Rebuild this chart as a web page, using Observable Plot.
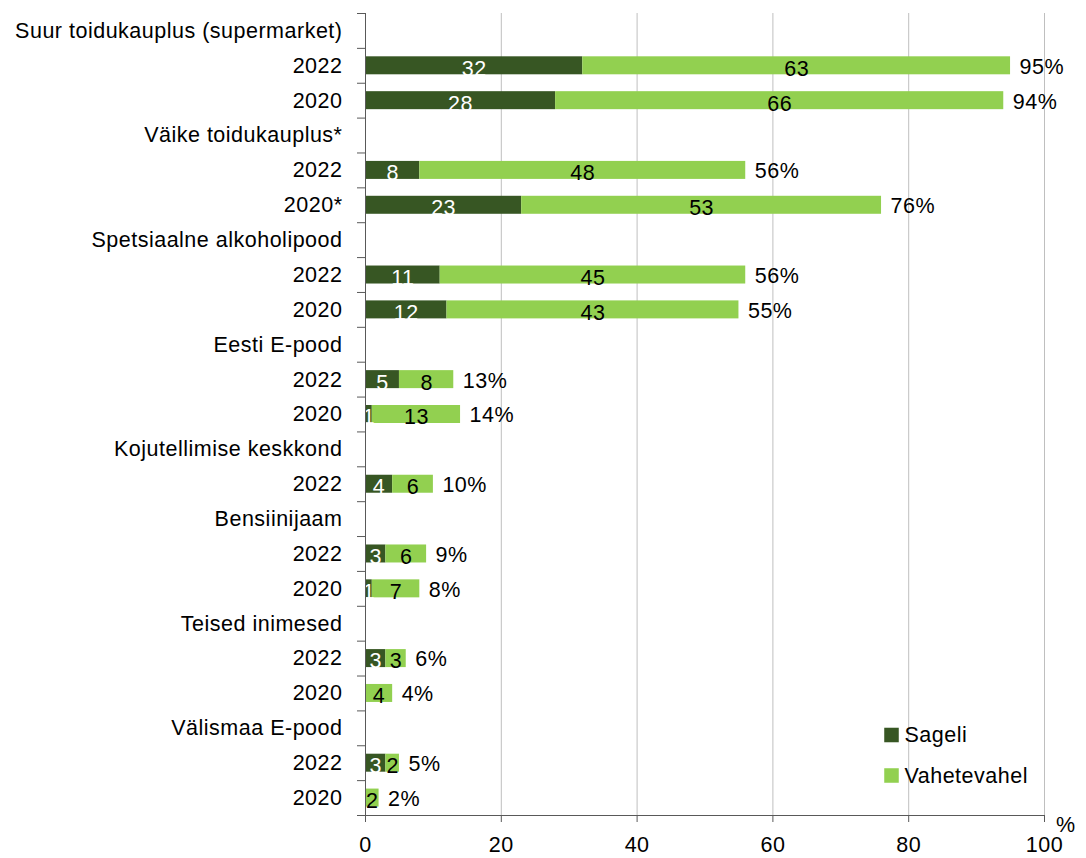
<!DOCTYPE html>
<html>
<head>
<meta charset="utf-8">
<script src="https://cdn.jsdelivr.net/npm/d3@7"></script>
<script src="https://cdn.jsdelivr.net/npm/@observablehq/plot@0.6"></script>
<style>
  html, body { margin: 0; padding: 0; background: white; }
  #chart svg { display: block; }
</style>
</head>
<body>
<div id="chart"></div>
<script>
// ---- Data ----
const groups = [
  "Suur toidukauplus (supermarket)",
  "Väike toidukauplus*",
  "Spetsiaalne alkoholipood",
  "Eesti E-pood",
  "Kojutellimise keskkond",
  "Bensiinijaam",
  "Teised inimesed",
  "Välismaa E-pood"
];
const years = [
  ["2022", "2020"],
  ["2022", "2020*"],
  ["2022", "2020"],
  ["2022", "2020"],
  ["2022"],
  ["2022", "2020"],
  ["2022", "2020"],
  ["2022", "2020"]
];
const sageli = [
  [32, 28],
  [8, 23],
  [11, 12],
  [5, 1],
  [4],
  [3, 1],
  [3, 0],
  [3, 0]
];
const vahetevahel = [
  [63, 66],
  [48, 53],
  [45, 43],
  [8, 13],
  [6],
  [6, 7],
  [3, 4],
  [2, 2]
];
const seriesNames = ["Sageli", "Vahetevahel"];
const seriesColors = ["#375623", "#92D050"];
const xTicks = [0, 20, 40, 60, 80, 100];

// ---- Build table ----
const rows = [];
const segments = [];
const totalRows = [];
groups.forEach((g, gi) => {
  rows.push({label: g});
  years[gi].forEach((yr, k) => {
    const i = rows.length;
    rows.push({label: yr});
    const s = sageli[gi][k], v = vahetevahel[gi][k];
    segments.push({i, series: seriesNames[0], x1: 0, x2: s, value: s});
    segments.push({i, series: seriesNames[1], x1: s, x2: s + v, value: v});
    totalRows.push({i, total: s + v});
  });
});
const n = rows.length;
const half = 0.258;
const axisColor = "#595959";
const gridColor = "#BFBFBF";
const fs = 21.5;

const legendMarks = seriesNames.flatMap((name, k) => [
  Plot.dot([name], {frameAnchor: "top-left", dx: 526, dy: 721.5 + 40.5 * k,
    symbol: "square", r: 8.2, fill: seriesColors[k], stroke: "none"}),
  Plot.text([name], {frameAnchor: "top-left", dx: 539, dy: 722 + 40.5 * k,
    text: d => d, textAnchor: "start", lineAnchor: "middle", fontSize: fs, fill: "black"})
]);

const chart = Plot.plot({
  width: 1086,
  height: 858,
  marginTop: 13,
  marginBottom: 43,
  marginLeft: 365,
  marginRight: 42,
  style: {
    fontFamily: "'Liberation Sans', Arial, sans-serif",
    fontSize: fs + "px",
    letterSpacing: "0.5px",
    color: "black",
    background: "white"
  },
  x: {domain: [0, 100]},
  y: {domain: [-0.5, n - 0.5], reverse: true},
  color: {domain: seriesNames, range: seriesColors},
  marks: [
    Plot.gridX({ticks: xTicks.filter(t => t > 0), stroke: gridColor, strokeOpacity: 1}),
    Plot.rect(segments, {x1: "x1", x2: "x2", y1: d => d.i - half, y2: d => d.i + half, fill: "series"}),
    Plot.text(segments.filter(d => d.value > 0 && d.series === seriesNames[0]),
      {x: d => (d.x1 + d.x2) / 2, y: "i", text: "value", fill: "white", dy: 3, fontSize: fs}),
    Plot.text(segments.filter(d => d.value > 0 && d.series === seriesNames[1]),
      {x: d => (d.x1 + d.x2) / 2, y: "i", text: "value", fill: "black", dy: 3, fontSize: fs}),
    Plot.text(totalRows, {x: "total", y: "i", text: d => d.total + "%", textAnchor: "start",
      dx: 9, dy: 1, fill: "black", fontSize: fs}),
    // axes
    Plot.ruleX([0], {stroke: axisColor}),
    Plot.ruleY([n - 0.5], {stroke: axisColor}),
    Plot.axisY({ticks: d3.range(n + 1).map(i => i - 0.5), tickSize: 8, tickFormat: () => "",
      label: null, stroke: axisColor}),
    Plot.axisY({ticks: d3.range(n), tickFormat: i => rows[i].label, tickSize: 0, tickPadding: 23,
      label: null, fontSize: fs, fill: "black"}),
    Plot.axisX({ticks: xTicks, tickSize: 7, tickPadding: 14, label: null, fontSize: fs,
      stroke: axisColor, fill: "black"}),
    Plot.text(["%"], {frameAnchor: "bottom-right", dx: 31, dy: 10, text: d => d,
      lineAnchor: "middle", fontSize: fs, fill: "black"}),
    ...legendMarks
  ]
});
document.getElementById("chart").appendChild(chart);
</script>
</body>
</html>
